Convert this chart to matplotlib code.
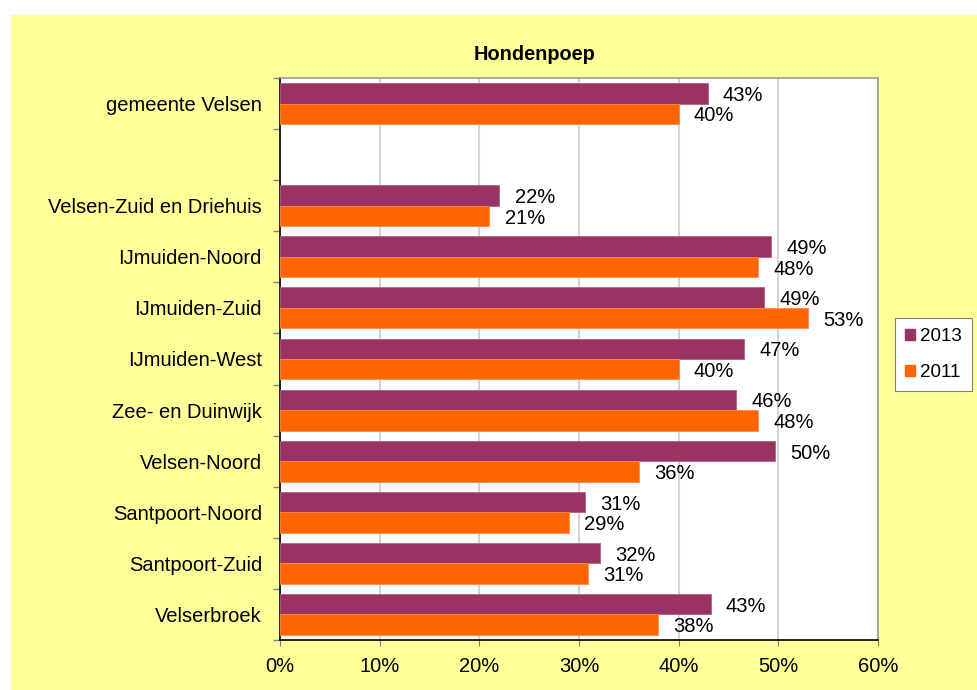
import matplotlib
matplotlib.use("Agg")
import matplotlib.pyplot as plt
from matplotlib.patches import Rectangle
from matplotlib.ticker import FixedLocator, PercentFormatter

plt.rcParams['font.family'] = ['Liberation Sans', 'DejaVu Sans']

# categories top to bottom ('' = empty spacer row)
categories = ['gemeente Velsen', '', 'Velsen-Zuid en Driehuis', 'IJmuiden-Noord',
              'IJmuiden-Zuid', 'IJmuiden-West', 'Zee- en Duinwijk', 'Velsen-Noord',
              'Santpoort-Noord', 'Santpoort-Zuid', 'Velserbroek']
# percentages, None for the spacer row
vals_2013 = [42.9, None, 22.0, 49.3, 48.6, 46.6, 45.8, 49.7, 30.6, 32.1, 43.2]
vals_2011 = [40.0, None, 21.0, 48.0, 53.0, 40.0, 48.0, 36.0, 29.0, 30.9, 37.9]
xticks = [0, 10, 20, 30, 40, 50, 60]

c2013 = '#993366'
c2011 = '#FF6600'
fs = 14.5

fig = plt.figure(figsize=(9.78, 6.9), dpi=100, facecolor='white')
# yellow chart area behind everything
bg = Rectangle((11 / 978, 0), 1, 1 - 15 / 690, transform=fig.transFigure,
               facecolor='#FFFF99', edgecolor='none', zorder=-10)
fig.add_artist(bg)

ax = fig.add_axes([280 / 978, 50 / 690, 598 / 978, 562 / 690])
ax.set_zorder(1)
ax.set_facecolor('white')

h = 0.4
for i, (a, b) in enumerate(zip(vals_2013, vals_2011)):
    if a is None:
        continue
    ax.barh(i - h / 2, a, height=h, color=c2013, edgecolor='#b0607f', linewidth=0.6, zorder=3)
    ax.barh(i + h / 2, b, height=h, color=c2011, edgecolor='#ff8a40', linewidth=0.6, zorder=3)
    ax.annotate(f'{a:.0f}%', (a, i - h / 2), xytext=(11, -1.5), textcoords='offset points',
                va='center', ha='left', fontsize=fs)
    ax.annotate(f'{b:.0f}%', (b, i + h / 2), xytext=(11, -1.5), textcoords='offset points',
                va='center', ha='left', fontsize=fs)

ax.set_xlim(0, 60)
ax.set_ylim(len(categories) - 0.5, -0.5)
ax.set_xticks(xticks)
ax.xaxis.set_major_formatter(PercentFormatter(decimals=0))
ax.set_yticks(range(len(categories)))
ax.set_yticklabels(categories)
ax.yaxis.set_minor_locator(FixedLocator([i - 0.5 for i in range(len(categories) + 1)]))

ax.tick_params(axis='y', which='major', length=0, pad=13, labelsize=fs)
ax.tick_params(axis='y', which='minor', length=5, color='#808080', width=1)
ax.tick_params(axis='x', which='major', length=4, color='#808080', pad=8, labelsize=fs)

ax.grid(axis='x', color='#d4d4d4', linewidth=1.5, zorder=0)
ax.set_axisbelow(True)

for s in ['top', 'right']:
    ax.spines[s].set_color('#9a9a9a')
    ax.spines[s].set_linewidth(1.2)
for s in ['left', 'bottom']:
    ax.spines[s].set_color('black')
    ax.spines[s].set_linewidth(1.2)

fig.text(535 / 978, 1 - 54 / 690, 'Hondenpoep', ha='center', va='center',
         fontsize=14.3, fontweight='bold')

handles = [Rectangle((0, 0), 1, 1, color=c2013), Rectangle((0, 0), 1, 1, color=c2011)]
leg = fig.legend(handles, ['2013', '2011'], loc='center left',
                 bbox_to_anchor=(895 / 978, 1 - 354.5 / 690), fontsize=13.5,
                 fancybox=False, framealpha=1, edgecolor='#808080',
                 handlelength=0.5, handleheight=0.5, handletextpad=0.3,
                 labelspacing=1.0, borderpad=0.55, borderaxespad=0)
leg.get_frame().set_linewidth(0.8)

fig.savefig('out.png', dpi=100, facecolor=fig.get_facecolor())
